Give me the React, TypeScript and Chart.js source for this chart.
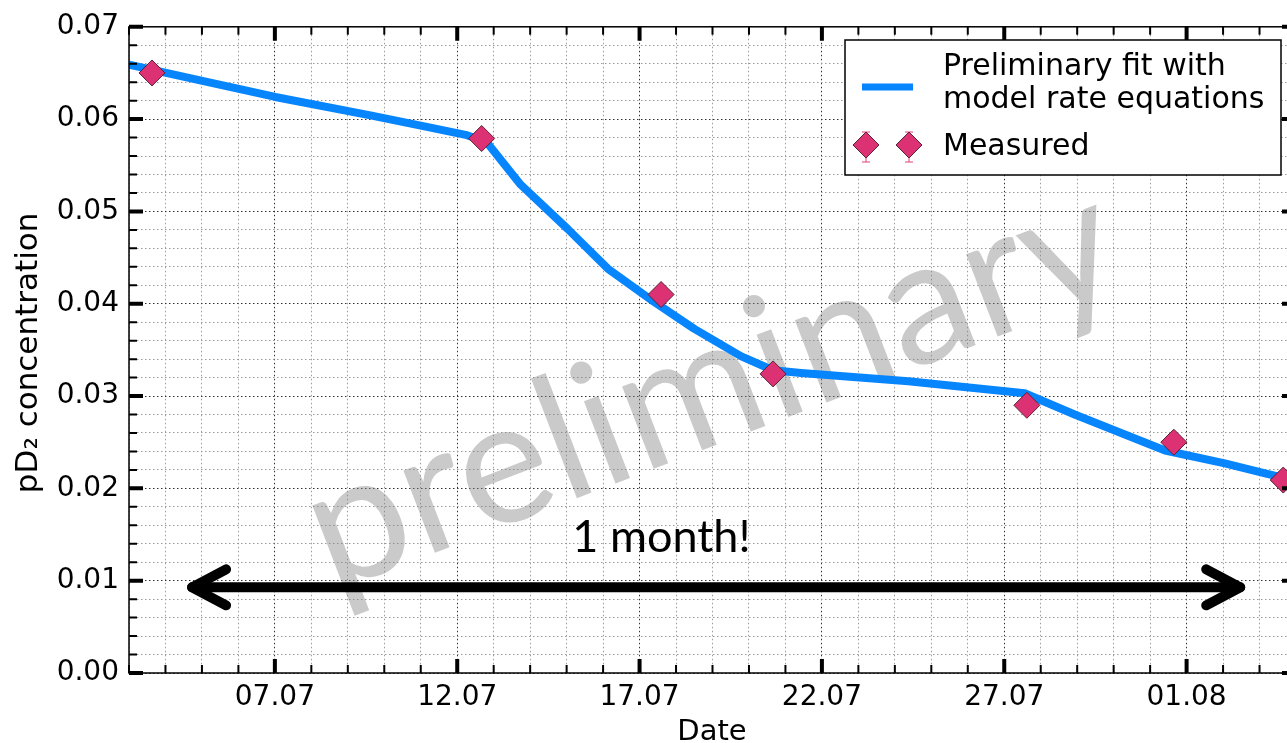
import React, { useEffect, useRef } from 'react';
import { Chart, registerables } from 'chart.js';

Chart.register(...registerables);

// x values are "day of July" (32 = 01.08)
const fitDays = [3.0, 4.95, 7.01, 9.62, 11.0, 12.23, 12.81, 13.74, 15.03, 16.13, 17.4, 18.49, 19.79, 20.66, 21.43, 24.37, 27.56, 28.93, 31.41, 33.05, 34.07, 35.0];
const fitValues = [0.0659, 0.0642, 0.0624, 0.0604, 0.0593, 0.0583, 0.0575, 0.0529, 0.0481, 0.0438, 0.0402, 0.0373, 0.0343, 0.0328, 0.0325, 0.0316, 0.0303, 0.028, 0.0241, 0.0227, 0.0217, 0.0208];

const measuredDays = [3.63, 12.67, 17.59, 20.66, 27.62, 31.65, 34.65];
const measuredValues = [0.065, 0.0579, 0.041, 0.0324, 0.029, 0.025, 0.0209];

const majorTickDays = [7, 12, 17, 22, 27, 32];
const majorTickLabels = ['07.07', '12.07', '17.07', '22.07', '27.07', '01.08'];
const yMajorValues = [0, 0.01, 0.02, 0.03, 0.04, 0.05, 0.06, 0.07];

const xMin = 3;
const xMax = 35;
const yMin = 0;
const yMax = 0.07;

const fitLabelLines = ['Preliminary fit with', 'model rate equations'];
const measuredLabel = 'Measured';
const xTitle = 'Date';
const yTitle = 'pD\u2082 concentration';
const watermarkText = 'preliminary';
const watermarkDay = 18.95;
const watermarkValue = 0.031;
const noteText = '1 month!';
const noteDay = 17.6;
const noteValue = 0.0131;
const arrowStartDay = 4.73;
const arrowEndDay = 33.47;
const arrowValue = 0.00928;

const BLUE = '#0785fd';
const PINK = '#dc3274';

const isMajorX = (v: number) => majorTickDays.some((d) => Math.abs(d - v) < 1e-6);
const isMajorY = (v: number) => yMajorValues.some((d) => Math.abs(d - v) < 1e-9);

const diamond = (ctx: CanvasRenderingContext2D, x: number, y: number, r: number) => {
  ctx.beginPath();
  ctx.moveTo(x, y - r);
  ctx.lineTo(x + r, y);
  ctx.lineTo(x, y + r);
  ctx.lineTo(x - r, y);
  ctx.closePath();
  ctx.fillStyle = PINK;
  ctx.fill();
  ctx.lineWidth = 1;
  ctx.strokeStyle = '#5b2136';
  ctx.stroke();
};

const decorPlugin = {
  id: 'decor',
  beforeDatasetsDraw(chart: any) {
    const { ctx, scales } = chart;
    const x = scales.x;
    const y = scales.y;
    const { left, right, top, bottom } = chart.chartArea;
    ctx.save();
    ctx.beginPath();
    ctx.rect(left, top, right - left, bottom - top);
    ctx.clip();
    ctx.translate(x.getPixelForValue(watermarkDay), y.getPixelForValue(watermarkValue));
    ctx.rotate((-21 * Math.PI) / 180);
    ctx.font = '174px Lato';
    ctx.fillStyle = 'rgba(128,128,128,0.42)';
    ctx.textAlign = 'center';
    ctx.textBaseline = 'middle';
    ctx.fillText(watermarkText, 0, 0);
    ctx.restore();
  },
  afterDatasetsDraw(chart: any) {
    const { ctx, scales } = chart;
    const x = scales.x;
    const y = scales.y;
    const { left, right, top, bottom } = chart.chartArea;
    ctx.save();

    // arrow
    const ay = y.getPixelForValue(arrowValue);
    const ax1 = x.getPixelForValue(arrowStartDay);
    const ax2 = x.getPixelForValue(arrowEndDay);
    ctx.strokeStyle = '#000';
    ctx.lineWidth = 10;
    ctx.lineCap = 'round';
    ctx.lineJoin = 'round';
    ctx.beginPath();
    ctx.moveTo(ax1, ay);
    ctx.lineTo(ax2, ay);
    ctx.stroke();
    ctx.beginPath();
    ctx.moveTo(ax1 + 34, ay - 18);
    ctx.lineTo(ax1, ay);
    ctx.lineTo(ax1 + 34, ay + 18);
    ctx.stroke();
    ctx.beginPath();
    ctx.moveTo(ax2 - 34, ay - 18);
    ctx.lineTo(ax2, ay);
    ctx.lineTo(ax2 - 34, ay + 18);
    ctx.stroke();

    // note text
    ctx.fillStyle = '#000';
    ctx.font = '45px Lato';
    ctx.textAlign = 'center';
    ctx.textBaseline = 'alphabetic';
    ctx.fillText(noteText, x.getPixelForValue(noteDay), y.getPixelForValue(noteValue));

    // frame
    ctx.lineCap = 'butt';
    ctx.lineJoin = 'miter';
    ctx.lineWidth = 1.5;
    ctx.strokeStyle = '#000';
    ctx.strokeRect(left, top, right - left, bottom - top);

    // inward ticks on all four sides
    x.ticks.forEach((t: any) => {
      const px = x.getPixelForValue(t.value);
      const major = isMajorX(t.value);
      const len = major ? 14 : 8;
      ctx.lineWidth = major ? 4 : 2;
      ctx.beginPath();
      ctx.moveTo(px, bottom);
      ctx.lineTo(px, bottom - len);
      ctx.moveTo(px, top);
      ctx.lineTo(px, top + len);
      ctx.stroke();
    });
    y.ticks.forEach((t: any) => {
      const py = y.getPixelForValue(t.value);
      const major = isMajorY(t.value);
      const len = major ? 14 : 8;
      ctx.lineWidth = major ? 4 : 2;
      ctx.beginPath();
      ctx.moveTo(left, py);
      ctx.lineTo(left + len, py);
      ctx.moveTo(right, py);
      ctx.lineTo(right - len, py);
      ctx.stroke();
    });

    // axis titles
    ctx.fillStyle = '#000';
    ctx.font = '29px "DejaVu Sans"';
    ctx.textAlign = 'center';
    ctx.textBaseline = 'alphabetic';
    ctx.fillText(xTitle, 712, 740);
    ctx.save();
    ctx.font = '31px "DejaVu Sans"';
    ctx.translate(37, (top + bottom) / 2 + 3);
    ctx.rotate(-Math.PI / 2);
    ctx.fillText(yTitle, 0, 0);
    ctx.restore();

    // legend
    const lx = 845;
    const ly = 40;
    const lw = 436;
    const lh = 135;
    ctx.fillStyle = '#fff';
    ctx.fillRect(lx, ly, lw, lh);
    ctx.lineWidth = 1.5;
    ctx.strokeStyle = '#000';
    ctx.strokeRect(lx, ly, lw, lh);

    ctx.strokeStyle = BLUE;
    ctx.lineWidth = 7;
    ctx.beginPath();
    ctx.moveTo(862, 87);
    ctx.lineTo(913, 87);
    ctx.stroke();

    ctx.fillStyle = '#000';
    ctx.font = '30px "DejaVu Sans"';
    ctx.textAlign = 'left';
    ctx.textBaseline = 'alphabetic';
    ctx.fillText(fitLabelLines[0], 943, 75);
    ctx.fillText(fitLabelLines[1], 943, 108);
    ctx.fillText(measuredLabel, 943, 155);

    [866, 909].forEach((mx) => {
      ctx.strokeStyle = '#e0407a';
      ctx.lineWidth = 1;
      ctx.beginPath();
      ctx.moveTo(mx, 132);
      ctx.lineTo(mx, 162);
      ctx.moveTo(mx - 4, 132);
      ctx.lineTo(mx + 4, 132);
      ctx.moveTo(mx - 4, 162);
      ctx.lineTo(mx + 4, 162);
      ctx.stroke();
      diamond(ctx, mx, 145, 13);
    });

    ctx.restore();
  },
};

export default function App() {
  const ref = useRef<HTMLCanvasElement | null>(null);

  useEffect(() => {
    if (!ref.current) return;
    const fitData = fitDays.map((d, i) => ({ x: d, y: fitValues[i] }));
    const measuredData = measuredDays.map((d, i) => ({ x: d, y: measuredValues[i] }));
    const chart = new Chart(ref.current, {
      type: 'line',
      data: {
        datasets: [
          {
            label: measuredLabel,
            data: measuredData,
            showLine: false,
            pointStyle: 'rectRot',
            pointRadius: 13,
            pointBackgroundColor: PINK,
            pointBorderColor: '#5b2136',
            pointBorderWidth: 1,
            order: 0,
          } as any,
          {
            label: fitLabelLines.join(' '),
            data: fitData,
            borderColor: BLUE,
            borderWidth: 8,
            pointRadius: 0,
            tension: 0,
            borderJoinStyle: 'round',
            borderCapStyle: 'butt',
            fill: false,
            order: 1,
          } as any,
        ],
      },
      options: {
        animation: false,
        responsive: false,
        devicePixelRatio: 1,
        layout: { padding: { top: 24, right: 6, left: 0, bottom: 0 } },
        plugins: { legend: { display: false }, tooltip: { enabled: false }, title: { display: false } },
        scales: {
          x: {
            type: 'linear',
            position: 'bottom',
            min: xMin,
            max: xMax,
            afterFit: (s: any) => {
              s.height = 70;
              s.paddingLeft = 0;
              s.paddingRight = 0;
            },
            grid: {
              drawTicks: false,
              lineWidth: 1,
              color: (c: any) => (c.tick && isMajorX(c.tick.value) ? '#333' : '#9a9a9a'),
            },
            border: { display: false, dash: [1.5, 2.5] },
            ticks: {
              stepSize: 1,
              autoSkip: false,
              maxRotation: 0,
              maxTicksLimit: 1000,
              padding: 8,
              color: '#000',
              font: { family: 'DejaVu Sans', size: 28 },
              callback: (v: any) => {
                const i = majorTickDays.findIndex((d) => Math.abs(d - Number(v)) < 1e-6);
                return i >= 0 ? majorTickLabels[i] : '';
              },
            },
          },
          y: {
            type: 'linear',
            position: 'left',
            min: yMin,
            max: yMax,
            afterFit: (s: any) => {
              s.width = 129;
            },
            grid: {
              drawTicks: false,
              lineWidth: 1,
              color: (c: any) => (c.tick && isMajorY(c.tick.value) ? '#333' : '#9a9a9a'),
            },
            border: { display: false, dash: [1.5, 2.5] },
            ticks: {
              stepSize: 0.002,
              autoSkip: false,
              maxTicksLimit: 1000,
              padding: 10,
              color: '#000',
              font: { family: 'DejaVu Sans', size: 28 },
              callback: (v: any) => (isMajorY(Number(v)) ? Number(v).toFixed(2) : ''),
            },
          },
        },
      } as any,
      plugins: [decorPlugin],
    });
    return () => chart.destroy();
  }, []);

  return (
    <div
      style={{
        position: 'absolute',
        left: 0,
        top: 0,
        width: 1287,
        height: 743,
        overflow: 'hidden',
        background: '#fff',
      }}
    >
      <canvas ref={ref} width={1310} height={743} style={{ display: 'block', width: 1310, height: 743 }} />
    </div>
  );
}
